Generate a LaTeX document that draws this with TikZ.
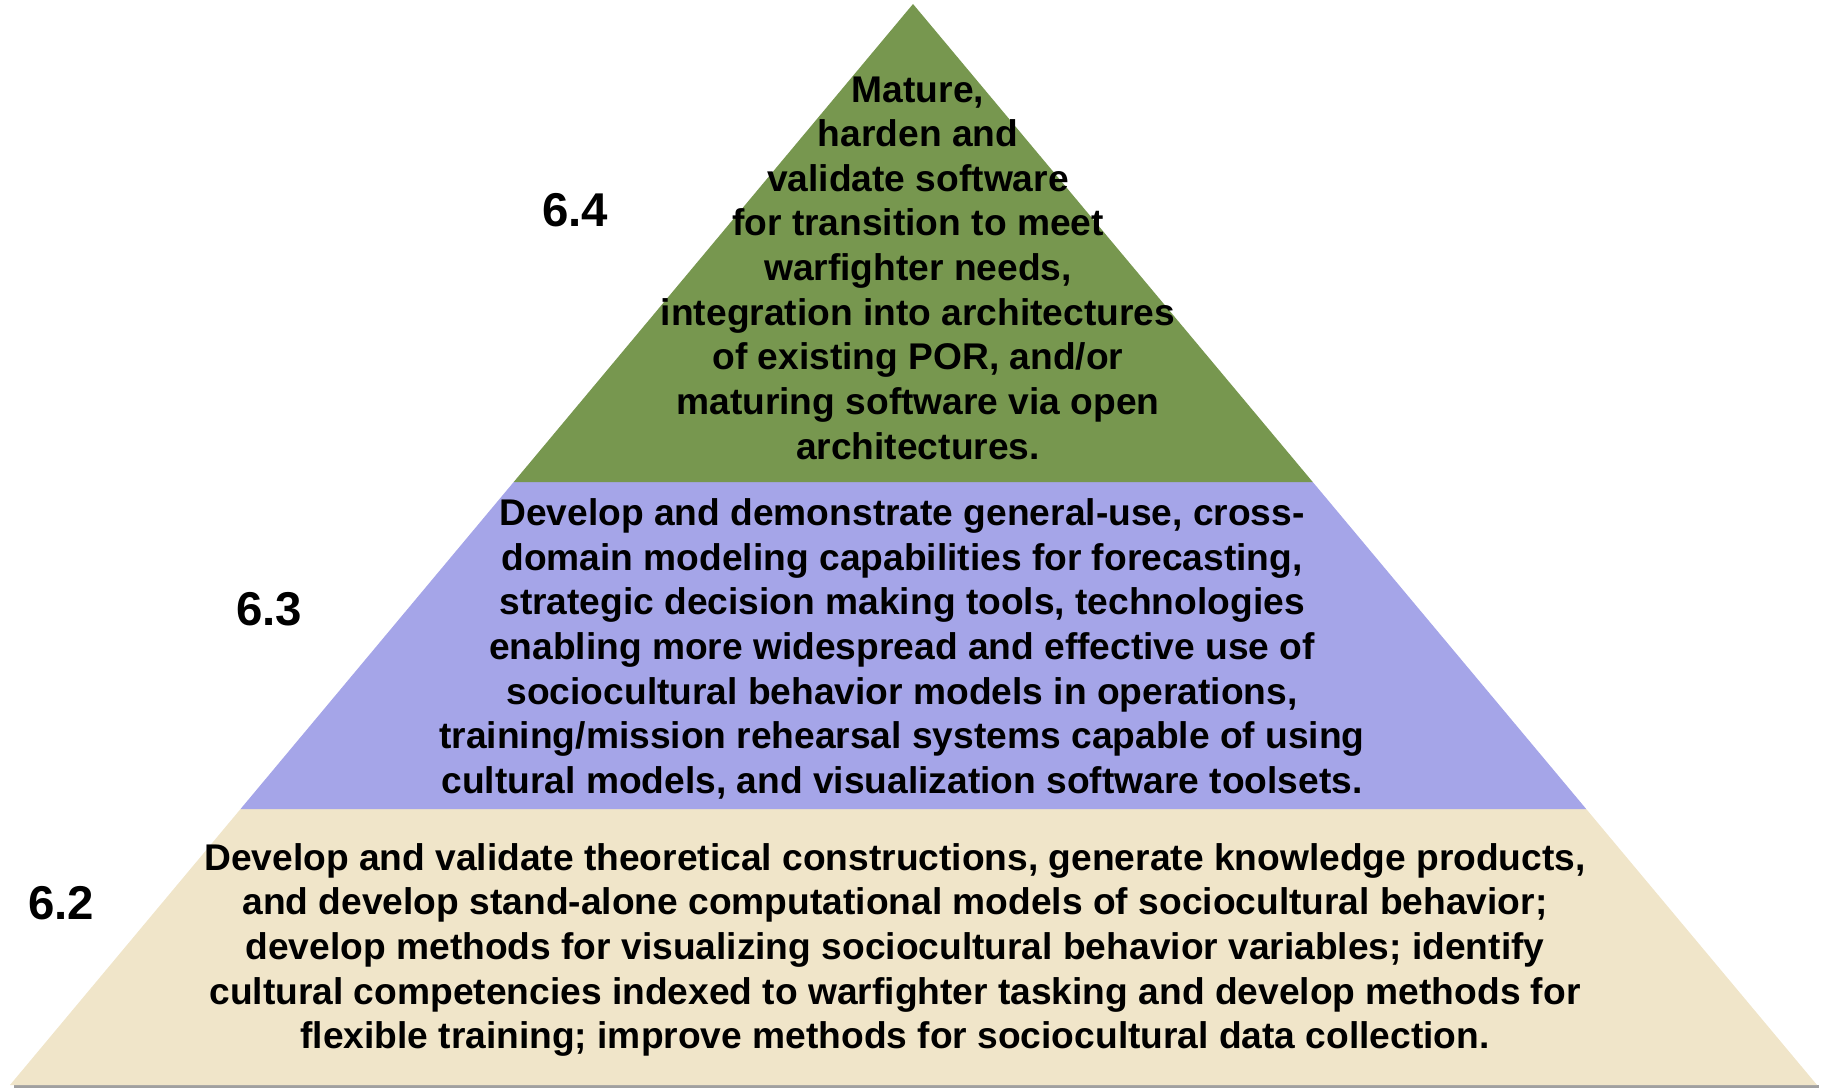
\documentclass[tikz,border=0pt]{standalone}
\usepackage{fontspec}
\setmainfont{Liberation Sans}
\usetikzlibrary{calc}
\definecolor{TierGreen}{HTML}{77974F}
\definecolor{TierPurple}{HTML}{A5A5E8}
\definecolor{TierTan}{HTML}{F0E5C9}
\definecolor{ShadowGray}{HTML}{A0A0A0}

\tikzset{
  tiertext/.style={align=center, inner sep=0pt,
    font=\fontsize{21.15}{25.4}\selectfont\bfseries},
  levellabel/.style={inner sep=0pt,
    font=\fontsize{27}{30}\selectfont\bfseries}
}

\begin{document}
\begin{tikzpicture}[x=0.02cm, y=-0.02cm]

\useasboundingbox (0,0) rectangle (1825,1088);

% corners of the whole pyramid
\coordinate (apex) at (913,4);
\coordinate (baseL) at (10,1085);
\coordinate (baseR) at (1817,1085);

% shadow under the base
\fill[ShadowGray] (14,1085) -- (1819,1085) -- (1819,1088) -- (14,1088) -- cycle;

% tiers
\fill[TierTan] ($(apex)!0.7447!(baseL)$) -- ($(apex)!0.7447!(baseR)$)
  -- (baseR) -- (baseL) -- cycle;
\fill[TierPurple] ($(apex)!0.4422!(baseL)$) -- ($(apex)!0.4422!(baseR)$)
  -- ($(apex)!0.7447!(baseR)$) -- ($(apex)!0.7447!(baseL)$) -- cycle;
\fill[TierGreen] (apex) -- ($(apex)!0.4422!(baseR)$)
  -- ($(apex)!0.4422!(baseL)$) -- cycle;

% texts
\node[tiertext] (top) at (918,268) {Mature,\\ harden and\\ validate software\\
  for transition to meet\\ warfighter needs,\\ integration into architectures\\
  of existing POR, and/or\\ maturing software via open\\ architectures.};

\node[tiertext] (mid) at (902,649) {Develop and demonstrate general-use, cross-\\
  domain modeling capabilities for forecasting,\\
  strategic decision making tools, technologies\\
  enabling more widespread and effective use of\\
  sociocultural behavior models in operations,\\
  training/mission rehearsal systems capable of using\\
  cultural models, and visualization software toolsets.};

\node[tiertext] (bottom) at (895,950) {Develop and validate theoretical constructions, generate knowledge products,\\
  and develop stand-alone computational models of sociocultural behavior;\\
  develop methods for visualizing sociocultural behavior variables; identify\\
  cultural competencies indexed to warfighter tasking and develop methods for\\
  flexible training; improve methods for sociocultural data collection.};

% level numbers
\node[levellabel] (l64) at (575,210) {6.4};
\node[levellabel] (l63) at (269,609) {6.3};
\node[levellabel] (l62) at (61,903) {6.2};

\end{tikzpicture}
\end{document}
